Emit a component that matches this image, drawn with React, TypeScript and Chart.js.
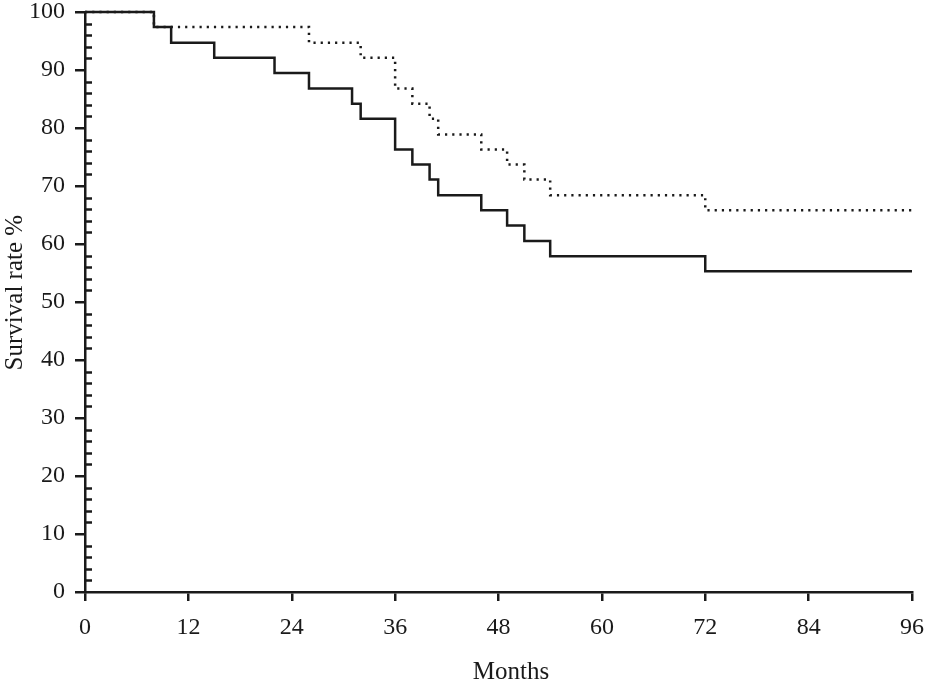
import React, { useEffect, useRef } from 'react';
import { Chart, registerables } from 'chart.js';

Chart.register(...registerables);

// Kaplan-Meier steps (months, survival %)
const solidMonths = [0, 8, 10, 15, 22, 26, 31, 32, 36, 38, 40, 41, 46, 49, 51, 54, 72, 96];
const solidSurvival = [100, 97.4, 94.7, 92.1, 89.5, 86.8, 84.2, 81.6, 76.3, 73.7, 71.1, 68.4, 65.8, 63.2, 60.5, 57.9, 55.3, 55.3];

const dottedMonths = [0, 8, 26, 32, 36, 38, 40, 41, 46, 49, 51, 54, 72, 96];
const dottedSurvival = [100, 97.4, 94.7, 92.1, 86.8, 84.2, 81.6, 78.9, 76.3, 73.7, 71.1, 68.4, 65.8, 65.8];

const xTicks = [0, 12, 24, 36, 48, 60, 72, 84, 96];
const yTicks = [0, 10, 20, 30, 40, 50, 60, 70, 80, 90, 100];
const yMinorStep = 2;

const INK = '#1a1a1a';
const FONT = 'Liberation Serif, Times New Roman, serif';

// small inward ticks on the y axis between the labelled ones
const minorTicks = {
  id: 'minorTicks',
  afterDraw(chart: any) {
    const y = chart.scales.y;
    const ctx = chart.ctx;
    const x0 = chart.chartArea.left;
    ctx.save();
    ctx.strokeStyle = INK;
    ctx.lineWidth = 2.5;
    for (let v = y.min; v <= y.max; v += yMinorStep) {
      if (v % 10 === 0) continue;
      const py = Math.round(y.getPixelForValue(v)) + 0.5;
      ctx.beginPath();
      ctx.moveTo(x0, py);
      ctx.lineTo(x0 + 7, py);
      ctx.stroke();
    }
    ctx.restore();
  },
};

// drop the label overflow padding so the plot area is set by layout.padding only
const noPad = (scale: any) => {
  scale.paddingTop = 0;
  scale.paddingBottom = 0;
  scale.paddingLeft = 0;
  scale.paddingRight = 0;
};

export default function App() {
  const canvasRef = useRef<HTMLCanvasElement>(null);

  useEffect(() => {
    if (!canvasRef.current) return;

    const chart = new Chart(canvasRef.current, {
      type: 'line',
      data: {
        datasets: [
          {
            label: 'solid',
            data: solidMonths.map((m, i) => ({ x: m, y: solidSurvival[i] })),
            borderColor: INK,
            borderWidth: 2.5,
            stepped: 'before',
            pointRadius: 0,
            fill: false,
            clip: false as any,
          },
          {
            label: 'dotted',
            data: dottedMonths.map((m, i) => ({ x: m, y: dottedSurvival[i] })),
            borderColor: INK,
            borderWidth: 2.5,
            borderDash: [2.2, 5],
            stepped: 'before',
            pointRadius: 0,
            fill: false,
            clip: false as any,
          },
        ],
      },
      options: {
        animation: false,
        responsive: true,
        maintainAspectRatio: false,
        layout: { padding: { top: 12, right: 13, left: 0, bottom: 0 } },
        plugins: {
          legend: { display: false },
          tooltip: { enabled: false },
        },
        scales: {
          x: {
            type: 'linear',
            min: 0,
            max: 96,
            afterBuildTicks: (scale: any) => {
              scale.ticks = xTicks.map(v => ({ value: v }));
            },
            afterFit: (scale: any) => {
              scale.height = 96;
              noPad(scale);
            },
            ticks: {
              color: INK,
              padding: 12,
              autoSkip: false,
              maxRotation: 0,
              font: { family: FONT, size: 24 },
            },
            grid: {
              drawOnChartArea: false,
              drawTicks: true,
              tickLength: 9,
              color: INK,
              lineWidth: 2.5,
            },
            border: { display: true, color: INK, width: 2.5 },
            title: {
              display: true,
              text: '    Months',
              color: INK,
              padding: { top: 0, bottom: 1 },
              font: { family: FONT, size: 25 },
            },
          },
          y: {
            type: 'linear',
            min: 0,
            max: 100,
            afterBuildTicks: (scale: any) => {
              scale.ticks = yTicks.map(v => ({ value: v }));
            },
            afterFit: (scale: any) => {
              scale.width = 85;
              noPad(scale);
            },
            ticks: {
              color: INK,
              padding: 10,
              autoSkip: false,
              font: { family: FONT, size: 24 },
            },
            grid: {
              drawOnChartArea: false,
              drawTicks: true,
              tickLength: 10,
              color: INK,
              lineWidth: 2.5,
            },
            border: { display: true, color: INK, width: 2.5 },
            title: {
              display: true,
              text: '   Survival rate %',
              color: INK,
              padding: { top: 0, bottom: 0 },
              font: { family: FONT, size: 25 },
            },
          },
        },
      },
      plugins: [minorTicks],
    });

    return () => chart.destroy();
  }, []);

  return (
    <div style={{ position: 'fixed', left: 0, top: 0, width: 925, height: 688, background: '#fff' }}>
      <canvas ref={canvasRef} />
    </div>
  );
}
